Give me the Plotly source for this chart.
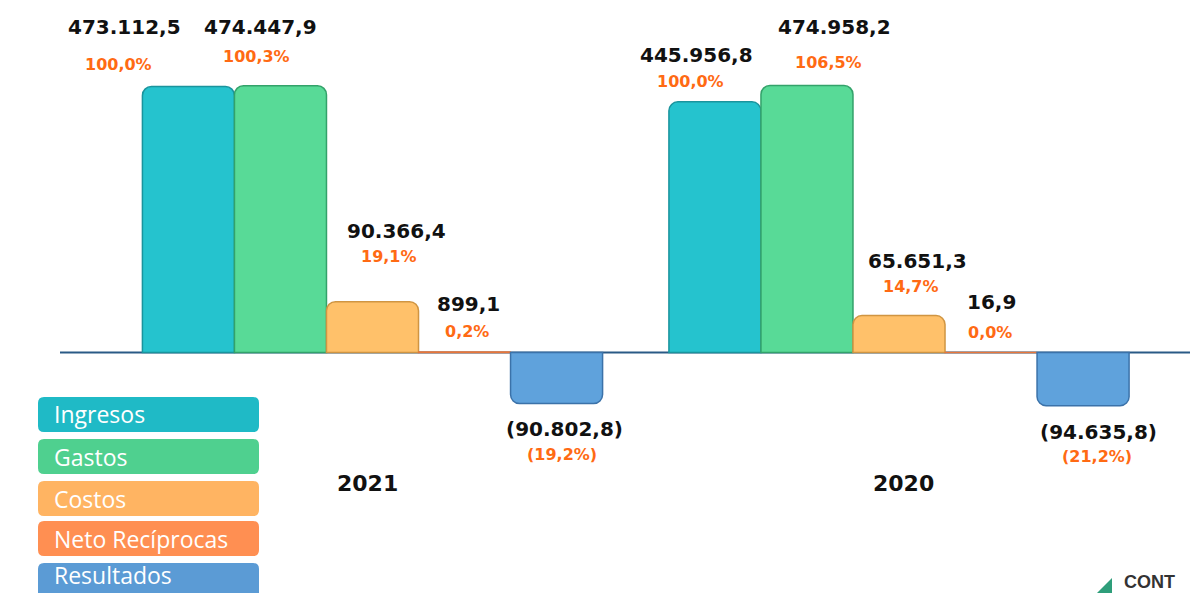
import plotly.graph_objects as go

# ---------------- data ----------------
years = ["2021", "2020"]
series = ["Ingresos", "Gastos", "Costos", "Neto Recíprocas", "Resultados"]
ingresos = [473112.5, 445956.8]
gastos = [474447.9, 474958.2]
costos = [90366.4, 65651.3]
neto_reciprocas = [899.1, 16.9]
resultados = [-90802.8, -94635.8]

ingresos_pct = [100.0, 100.0]
gastos_pct = [100.3, 106.5]
costos_pct = [19.1, 14.7]
neto_pct = [0.2, 0.0]
resultados_pct = [-19.2, -21.2]

values = [ingresos, gastos, costos, neto_reciprocas, resultados]
pcts = [ingresos_pct, gastos_pct, costos_pct, neto_pct, resultados_pct]

# ---------------- style ----------------
W, H = 1190, 593
fills = ["#25C3CE", "#58DA97", "#FFC16A", "#F58A4E", "#5FA2DC"]
edges = ["#1A949D", "#33A26A", "#D09542", "#E8763A", "#3B72A9"]
legend_fills = ["#1FBAC6", "#4FD08F", "#FFB462", "#FF8F52", "#5B9BD5"]
bargap = 0.126
bw = (1 - bargap) / 5
px_per_x = 526.5
units_per_px = 1778.6
base_px = 352.5

# label offsets (px) relative to bar centre / bar end: [year][series]
val_dx = [[-64, -20, 24, 4, 8], [-18, 28, 18, 0, 15]]
val_dy = [[60, 59, 71, 48, -25], [47, 58, 55, 50, -26]]
pct_dx = [[-70, -24, 16, 2, 5], [-24, 22, 12, -1, 14]]
pct_dy = [[22, 29, 45, 20, -51], [20, 23, 29, 20, -51]]


def fmt_num(v):
    s = f"{abs(v):,.1f}".replace(",", "X").replace(".", ",").replace("X", ".")
    return f"({s})" if v < 0 else s


def fmt_pct(p):
    s = f"{abs(p):.1f}".replace(".", ",") + "%"
    return f"({s})" if p < 0 else s


fig = go.Figure()
xs = list(range(len(years)))
for k, name in enumerate(series):
    fig.add_trace(go.Bar(
        x=xs, y=values[k], name=name,
        marker=dict(color=fills[k], line=dict(color=edges[k], width=1.5), cornerradius=9),
        hoverinfo="skip", showlegend=False,
    ))

ann = []
for i, yr in enumerate(years):
    for k in range(len(series)):
        xc = i + (k - 2) * bw
        v = values[k][i]
        ann.append(dict(x=xc, y=v, xref="x", yref="y", text=fmt_num(v), showarrow=False,
                        xshift=val_dx[i][k], yshift=val_dy[i][k], yanchor="middle",
                        font=dict(family="DejaVu Sans", size=20, color="#111111", weight="bold")))
        ann.append(dict(x=xc, y=v, xref="x", yref="y", text=fmt_pct(pcts[k][i]), showarrow=False,
                        xshift=pct_dx[i][k], yshift=pct_dy[i][k], yanchor="middle",
                        font=dict(family="DejaVu Sans", size=16, color="#FF6A13", weight="bold")))
    ann.append(dict(x=i, y=1 - 483 / H, xref="x", yref="paper", text=yr, showarrow=False,
                    xshift=[-5, 4][i], yanchor="middle",
                    font=dict(family="DejaVu Sans", size=22, color="#111111", weight="bold")))


def px2paper(x, y):
    return x / W, 1 - y / H


def rounded_rect(x0, y0, x1, y1, r):
    rx, ry = r / W, r / H
    a0, b1 = px2paper(x0, y0)
    a1, b0 = px2paper(x1, y1)
    return (f"M {a0+rx},{b0} L {a1-rx},{b0} Q {a1},{b0} {a1},{b0+ry} "
            f"L {a1},{b1-ry} Q {a1},{b1} {a1-rx},{b1} L {a0+rx},{b1} "
            f"Q {a0},{b1} {a0},{b1-ry} L {a0},{b0+ry} Q {a0},{b0} {a0+rx},{b0} Z")


shapes = []
# baseline
shapes.append(dict(type="line", xref="paper", yref="y", x0=60 / W, x1=1, y0=0, y1=0,
                   line=dict(color="#2A5A86", width=2), layer="below"))
# custom legend
leg_tops = [397, 439, 481, 521, 563]
leg_text_y = [414.5, 456.5, 498.5, 538.5, 575]
for k, name in enumerate(series):
    t = leg_tops[k]
    shapes.append(dict(type="path", xref="paper", yref="paper",
                       path=rounded_rect(38, t, 259, t + 35, 6),
                       fillcolor=legend_fills[k], line=dict(width=0), layer="above"))
    ax, ay = px2paper(53, leg_text_y[k])
    ann.append(dict(x=ax, y=ay, xref="paper", yref="paper", text=name, showarrow=False,
                    xanchor="left", yanchor="middle", borderpad=0,
                    font=dict(family="Open Sans", size=23, color="#FFFFFF")))

# logo hint bottom-right
lx0, ly0 = px2paper(1097, 593)
lx1, ly1 = px2paper(1112, 578)
shapes.append(dict(type="path", xref="paper", yref="paper",
                   path=f"M {lx0},{ly0} L {lx1},{ly1} L {lx1},{ly0} Z",
                   fillcolor="#2E9E7A", line=dict(width=0)))
cx, cy = px2paper(1122, 582)
ann.append(dict(x=cx, y=cy, xref="paper", yref="paper", text="CONT", showarrow=False,
                xanchor="left", yanchor="middle",
                font=dict(family="Liberation Sans", size=18, color="#333333", weight="bold")))

fig.update_layout(
    width=W, height=H,
    margin=dict(l=0, r=0, t=0, b=0),
    paper_bgcolor="white", plot_bgcolor="white",
    barmode="group", bargap=bargap, bargroupgap=0,
    xaxis=dict(range=[-372.5 / px_per_x, 1 + 291 / px_per_x], visible=False),
    yaxis=dict(range=[-(H - base_px) * units_per_px, base_px * units_per_px], visible=False),
    annotations=ann, shapes=shapes, showlegend=False,
)

fig.write_html("out.html", config={"displayModeBar": False},
               post_script="document.body.style.margin='0';")
